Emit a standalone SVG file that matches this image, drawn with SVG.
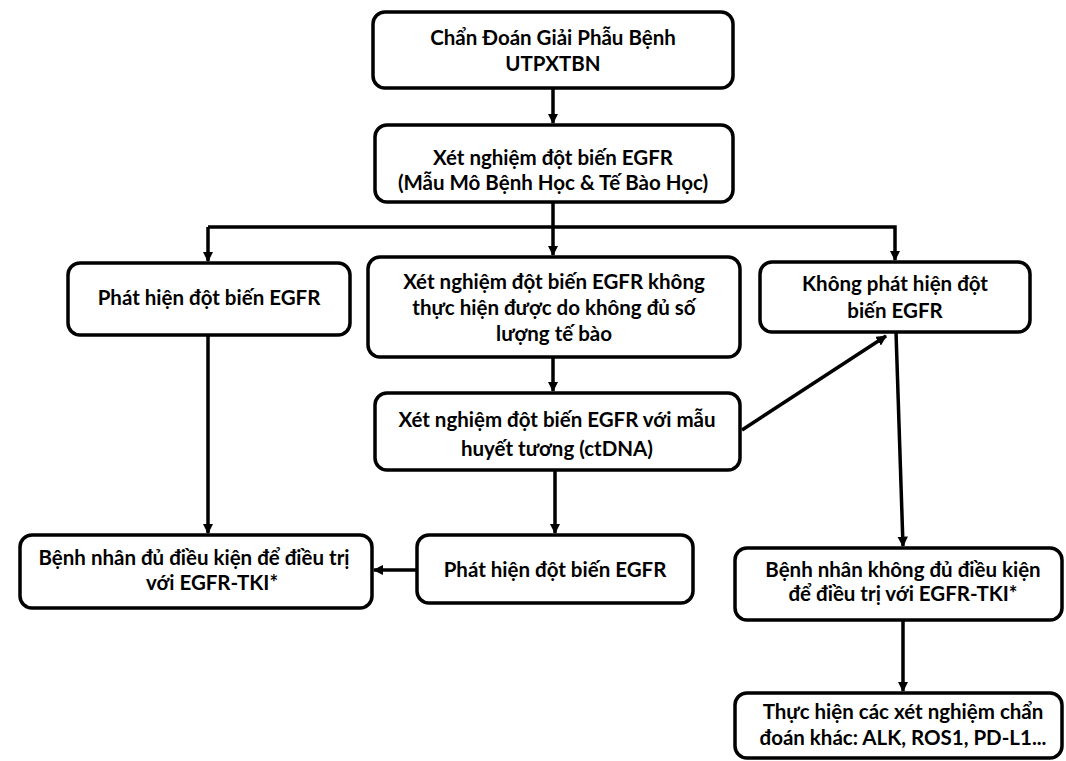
<svg xmlns="http://www.w3.org/2000/svg" width="1066" height="761" viewBox="0 0 1066 761">
<style>
.box{fill:#fff;stroke:#000;stroke-width:3.5}
.t{font-family:Lato,"Open Sans","Liberation Sans",sans-serif;font-weight:bold;font-size:20.5px;fill:#000;text-anchor:middle}
.c{fill:none;stroke:#000;stroke-width:3.5}
</style>
<defs>
<marker id="ah" viewBox="0 0 10 10" refX="9" refY="5" markerWidth="3" markerHeight="3" orient="auto" markerUnits="strokeWidth">
<path d="M0,0 L10,5 L0,10 z" fill="#000"/>
</marker>
</defs>
<rect width="1066" height="761" fill="#fff"/>
<g id="connectors">
<line class="c" x1="553" y1="88" x2="553" y2="123" marker-end="url(#ah)"/>
<line class="c" x1="553" y1="202" x2="553" y2="227"/>
<polyline class="c" points="208,227 895,227 895,260" marker-end="url(#ah)"/>
<line class="c" x1="208" y1="227" x2="208" y2="261" marker-end="url(#ah)"/>
<line class="c" x1="553" y1="227" x2="553" y2="255" marker-end="url(#ah)"/>
<line class="c" x1="553" y1="357" x2="553" y2="391" marker-end="url(#ah)"/>
<line class="c" x1="742" y1="430" x2="886" y2="336" marker-end="url(#ah)"/>
<line class="c" x1="896" y1="332" x2="903" y2="546" marker-end="url(#ah)"/>
<line class="c" x1="903" y1="620" x2="903" y2="691" marker-end="url(#ah)"/>
<line class="c" x1="208" y1="335" x2="208" y2="533" marker-end="url(#ah)"/>
<line class="c" x1="555" y1="470" x2="555" y2="533" marker-end="url(#ah)"/>
<line class="c" x1="417" y1="570" x2="374" y2="570" marker-end="url(#ah)"/>
</g>
<g id="n1">
<rect class="box" x="373" y="12" width="360" height="76" rx="12"/>
<text class="t" x="553" y="45">Chẩn Đoán Giải Phẫu Bệnh</text>
<text class="t" x="553" y="71">UTPXTBN</text>
</g>
<g id="n2">
<rect class="box" x="375" y="125" width="358" height="77" rx="12"/>
<text class="t" x="553" y="165">Xét nghiệm đột biến EGFR</text>
<text class="t" x="553" y="190">(Mẫu Mô Bệnh Học &amp; Tế Bào Học)</text>
</g>
<g id="n3">
<rect class="box" x="68" y="263" width="282" height="72" rx="12"/>
<text class="t" x="209" y="305">Phát hiện đột biến EGFR</text>
</g>
<g id="n4">
<rect class="box" x="368" y="257" width="372" height="100" rx="12"/>
<text class="t" x="554" y="289">Xét nghiệm đột biến EGFR không</text>
<text class="t" x="554" y="315">thực hiện được do không đủ số</text>
<text class="t" x="554" y="341">lượng tế bào</text>
</g>
<g id="n5">
<rect class="box" x="760" y="262" width="270" height="70" rx="12"/>
<text class="t" x="895" y="291">Không phát hiện đột</text>
<text class="t" x="895" y="318">biến EGFR</text>
</g>
<g id="n6">
<rect class="box" x="375" y="393" width="365" height="77" rx="12"/>
<text class="t" x="557" y="427">Xét nghiệm đột biến EGFR với mẫu</text>
<text class="t" x="557" y="456">huyết tương (ctDNA)</text>
</g>
<g id="n7">
<rect class="box" x="20" y="535" width="352" height="73" rx="12"/>
<text class="t" x="194" y="565">Bệnh nhân đủ điều kiện để điều trị</text>
<text class="t" x="212" y="590">với EGFR-TKI*</text>
</g>
<g id="n8">
<rect class="box" x="417" y="535" width="276" height="68" rx="12"/>
<text class="t" x="555" y="577">Phát hiện đột biến EGFR</text>
</g>
<g id="n9">
<rect class="box" x="735" y="548" width="327" height="72" rx="12"/>
<text class="t" x="903" y="577">Bệnh nhân không đủ điều kiện</text>
<text class="t" x="903" y="601">để điều trị với EGFR-TKI*</text>
</g>
<g id="n10">
<rect class="box" x="735" y="693" width="327" height="65" rx="12"/>
<text class="t" x="903" y="719">Thực hiện các xét nghiệm chẩn</text>
<text class="t" x="903" y="745">đoán khác: ALK, ROS1, PD-L1...</text>
</g>
</svg>
